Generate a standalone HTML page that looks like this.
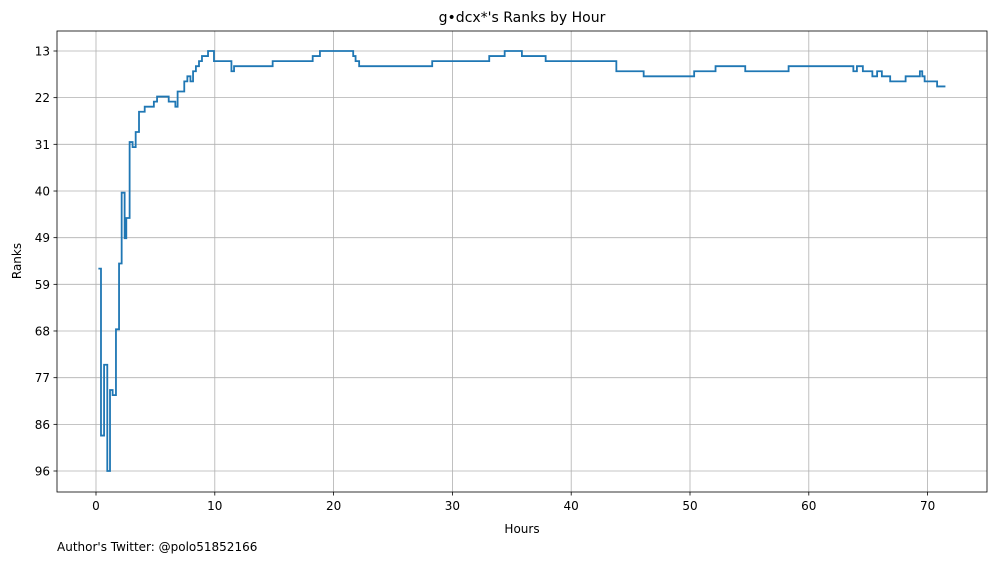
<!DOCTYPE html>
<html><head><meta charset="utf-8"><style>
body{margin:0;background:#fff;font-family:"Liberation Sans","DejaVu Sans",sans-serif}
svg text{font-family:"DejaVu Sans","Liberation Sans",sans-serif;fill:#000}
</style></head><body>
<svg id="chart" width="997" height="562" xmlns="http://www.w3.org/2000/svg">
<rect width="997" height="562" fill="#fff"/>
<g id="grid"></g>
<path id="line" fill="none" stroke="#1f77b4" stroke-width="1.8"/>
<rect x="57" y="31" width="930" height="461" fill="none" stroke="#000" stroke-width="0.8"/>
<g id="ticks"></g>
<text x="522" y="22" font-size="14" text-anchor="middle">g•dcx*'s Ranks by Hour</text>
<text x="522" y="533" font-size="12" text-anchor="middle">Hours</text>
<text x="21" y="261" font-size="12" text-anchor="middle" transform="rotate(-90 21 261)">Ranks</text>
<text x="57" y="551" font-size="12">Author's Twitter: @polo51852166</text>
</svg>
<script>
const hours=[0.2,0.42,0.68,0.95,1.18,1.4,1.68,1.94,2.16,2.41,2.55,2.83,3.08,3.34,3.62,4.1,4.87,5.14,6.12,6.68,6.87,7.43,7.69,7.95,8.17,8.41,8.67,8.92,9.43,9.93,11.4,11.62,14.87,18.24,18.85,21.65,21.85,22.15,28.3,33.1,34.4,35.85,37.85,43.8,46.1,50.35,52.15,54.65,58.3,63.75,64.05,64.55,65.35,65.75,66.15,66.85,68.15,69.35,69.55,69.75,70.8,71.5];
const ranks=[56,89,75,96,80,81,68,55,41,50,46,31,32,29,25,24,23,22,23,24,21,19,18,19,17,16,15,14,13,15,17,16,15,14,13,14,15,16,15,14,13,14,15,17,18,17,16,17,16,17,16,17,18,17,18,19,18,17,18,19,20,20];
const xTicks=[0,10,20,30,40,50,60,70];
const yTicks=[13,22.22,31.44,40.67,49.89,59.11,68.33,77.56,86.78,96];
const yTickLabels=["13","22","31","40","49","59","68","77","86","96"];
const X=h=>96+h*11.88;
const Y=r=>51+(r-13)*(420/83);
const NS="http://www.w3.org/2000/svg";
const grid=document.getElementById('grid'),ticks=document.getElementById('ticks');
function mk(tag,attrs,parent){const e=document.createElementNS(NS,tag);for(const k in attrs)e.setAttribute(k,attrs[k]);parent.appendChild(e);return e;}
xTicks.forEach(t=>{const x=X(t);
 const g=mk('line',{x1:x,x2:x,y1:31,y2:492,stroke:'#b0b0b0','stroke-width':0.8},grid);
 
 
 mk('line',{x1:x,x2:x,y1:492,y2:495.5,stroke:'#000','stroke-width':0.8},ticks);
 const tx=mk('text',{x:x,y:510,'font-size':12,'text-anchor':'middle'},ticks);tx.textContent=t;
 
 
});
yTicks.forEach((t,i)=>{const y=Y(t);
 const g=mk('line',{x1:57,x2:987,y1:y,y2:y,stroke:'#b0b0b0','stroke-width':0.8},grid);
 
 
 mk('line',{x1:53.5,x2:57,y1:y,y2:y,stroke:'#000','stroke-width':0.8},ticks);
 const tx=mk('text',{x:50,y:y+4.5,'font-size':12,'text-anchor':'end'},ticks);tx.textContent=yTickLabels[i];
 
 
});
let d='M'+X(hours[0])+' '+Y(ranks[0]);
for(let i=1;i<hours.length;i++){d+=' H'+X(hours[i])+' V'+Y(ranks[i]);}
document.getElementById('line').setAttribute('d',d);
</script>
</body></html>
